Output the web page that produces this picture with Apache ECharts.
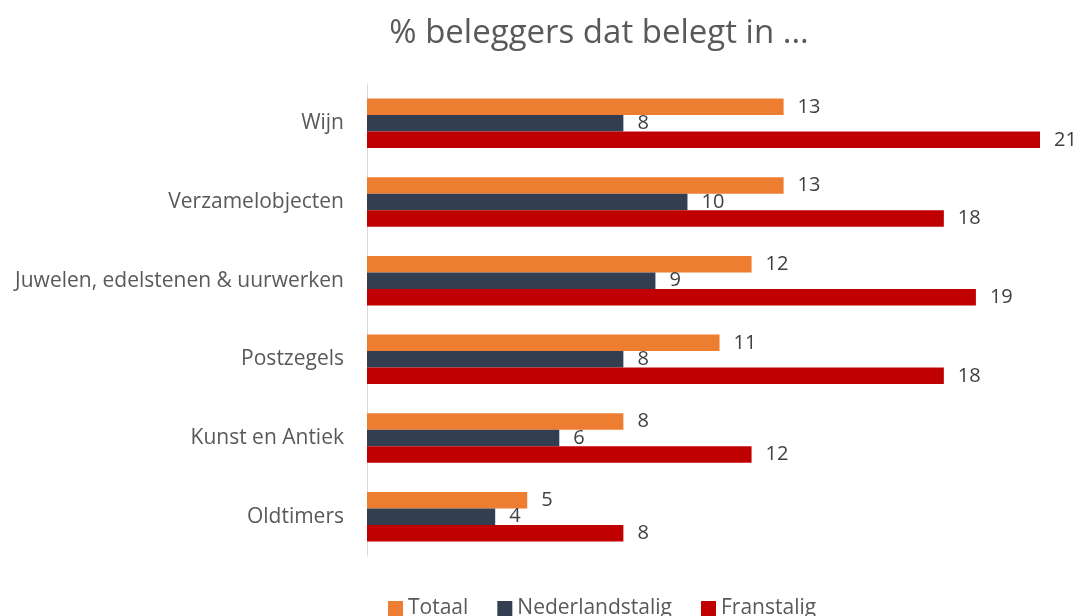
<!DOCTYPE html>
<html>
<head>
<meta charset="utf-8">
<script src="https://cdn.jsdelivr.net/npm/echarts@6/dist/echarts.min.js"></script>
<style>
  html, body { margin: 0; padding: 0; background: #fff; }
  #chart { width: 1081px; height: 616px; }
</style>
</head>
<body>
<div id="chart"></div>
<script>
  var categories = ['Wijn', 'Verzamelobjecten', 'Juwelen, edelstenen & uurwerken', 'Postzegels', 'Kunst en Antiek', 'Oldtimers'];
  var totaal = [13, 13, 12, 11, 8, 5];
  var nederlandstalig = [8, 10, 9, 8, 6, 4];
  var franstalig = [21, 18, 19, 18, 12, 8];

  var labelStyle = {
    show: true,
    position: 'right',
    distance: 14,
    color: '#404040',
    fontSize: 20,
    fontFamily: 'Open Sans'
  };

  function mkSeries(name, data, color) {
    return {
      name: name,
      type: 'bar',
      data: data,
      barGap: '0%',
      barCategoryGap: '37%',
      itemStyle: { color: color },
      label: labelStyle
    };
  }

  var myChart = echarts.init(document.getElementById('chart'));
  var option = {
    animation: false,
    title: {
      text: '% beleggers dat belegt in ...',
      left: 594,
      textAlign: 'center',
      top: 12,
      textStyle: { color: '#595959', fontSize: 33, fontWeight: 'normal', fontFamily: 'Open Sans' }
    },
    legend: {
      data: ['Totaal', 'Nederlandstalig', 'Franstalig'],
      left: 383,
      bottom: -8,
      itemWidth: 15,
      itemHeight: 15,
      itemGap: 29,
      icon: 'rect',
      textStyle: { color: '#595959', fontSize: 21, fontFamily: 'Open Sans' }
    },
    grid: { left: 367, right: 41, top: 84, bottom: 60, containLabel: false },
    xAxis: {
      type: 'value',
      min: 0,
      max: 21,
      show: false
    },
    yAxis: {
      type: 'category',
      data: categories,
      inverse: true,
      axisLine: { show: true, lineStyle: { color: '#d9d9d9' } },
      axisTick: { show: false },
      axisLabel: { color: '#595959', fontSize: 21, margin: 23, fontFamily: 'Open Sans' }
    },
    series: [
      mkSeries('Totaal', totaal, '#ED7D31'),
      mkSeries('Nederlandstalig', nederlandstalig, '#333F50'),
      mkSeries('Franstalig', franstalig, '#C00000')
    ]
  };
  myChart.setOption(option);
</script>
</body>
</html>
